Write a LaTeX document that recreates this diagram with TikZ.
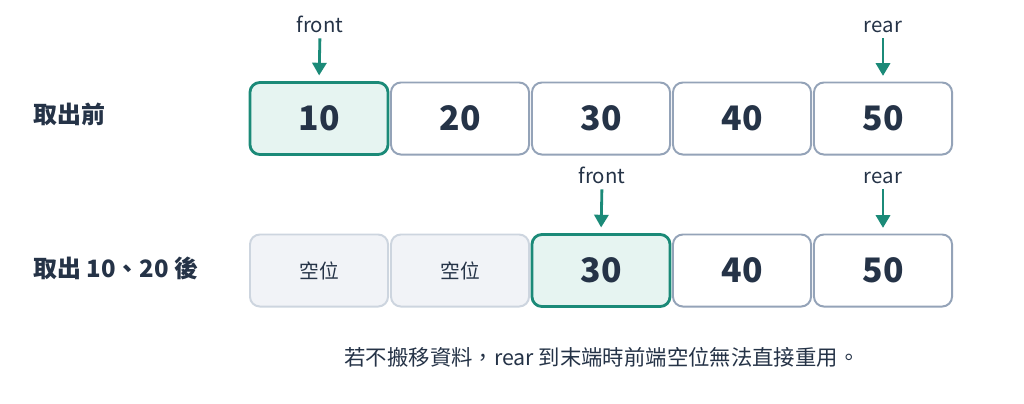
\documentclass[tikz,border=0pt]{standalone}
\usepackage{fontspec}
\setmainfont{Noto Sans CJK TC}
\usetikzlibrary{arrows.meta}

\definecolor{ink}{HTML}{253347}
\definecolor{tealline}{HTML}{1B8A78}
\definecolor{tealfill}{HTML}{E6F4F1}
\definecolor{cellline}{HTML}{94A3B8}
\definecolor{emptyfill}{HTML}{F1F3F7}
\definecolor{emptyline}{HTML}{CDD5DF}

\tikzset{
  cell/.style={draw=cellline, line width=1.4pt, fill=white, rounded corners=7pt,
    minimum width=3.45cm, minimum height=1.8cm, text=ink,
    font=\bfseries\fontsize{24}{24}\selectfont},
  headcell/.style={cell, draw=tealline, fill=tealfill, line width=2pt},
  emptycell/.style={cell, draw=emptyline, fill=emptyfill, font=\fontsize{14}{14}\selectfont},
  ptr/.style={text=ink, anchor=base, inner sep=1pt, text depth=0pt,
    font=\fontsize{14.5}{14.5}\selectfont},
  ptrarrow/.style={draw=tealline, line width=2pt, -{Triangle[width=10pt,length=9pt]},
    shorten <=3.3pt, shorten >=4pt},
  rowlabel/.style={text=ink, anchor=west, inner sep=0pt, font=\bfseries\fontsize{17}{17}\selectfont},
}

\begin{document}
\begin{tikzpicture}[x=0.025cm, y=-0.025cm]
\useasboundingbox (0,0) rectangle (1024,403);

% before
\node[rowlabel] (lbltop) at (33,114) {取出前};
\foreach \v/\s [count=\i] in {10/headcell,20/cell,30/cell,40/cell,50/cell}{
	\node[\s] (top\i) at ({319+141*(\i-1)},118.5) {\v};
}
\node[ptr] (fronttop) at (320,32) {front};
\node[ptr] (reartop) at (883,32) {rear};
\draw[ptrarrow] (fronttop.south)--(top1.north);
\draw[ptrarrow] (reartop.south)--(top5.north);

% after
\node[rowlabel] (lblbot) at (33,268) {取出 10、20 後};
\foreach \v/\s [count=\i] in {空位/emptycell,空位/emptycell,30/headcell,40/cell,50/cell}{
	\node[\s] (bot\i) at ({319+141*(\i-1)},270.5) {\v};
}
\node[ptr] (frontbot) at (602,183) {front};
\node[ptr] (rearbot) at (883,183) {rear};
\draw[ptrarrow] (frontbot.south)--(bot3.north);
\draw[ptrarrow] (rearbot.south)--(bot5.north);

\node[text=ink, font=\fontsize{15.2}{15.2}\selectfont] (note) at (602,357) {若不搬移資料，rear 到末端時前端空位無法直接重用。};
\end{tikzpicture}
\end{document}
